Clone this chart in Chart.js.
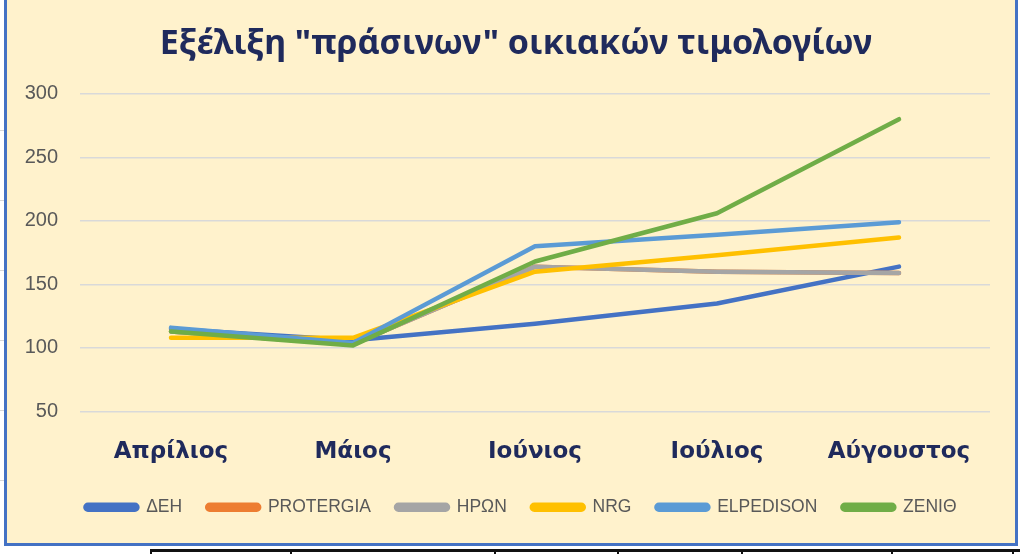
<!DOCTYPE html>
<html>
<head>
<meta charset="utf-8">
<script src="https://cdn.jsdelivr.net/npm/chart.js@4.4.0/dist/chart.umd.min.js"></script>
<style>
  html, body { margin: 0; padding: 0; background: #ffffff; width: 1020px; height: 554px; overflow: hidden; }
  #frame { position: absolute; left: 4px; top: -4px; width: 1008px; height: 544px; background: #FFF2CC; border: 3px solid #4472C4; box-sizing: content-box; }
  #wrap { position: absolute; left: 0; top: 0; width: 1020px; height: 554px; }
  .tl { position: absolute; background: #111; }
  .cell { position: absolute; background: #d8d8d8; }
</style>
</head>
<body>
<div class="cell" style="left:0;top:130px;width:4px;height:1px"></div>
<div class="cell" style="left:0;top:200px;width:4px;height:1px"></div>
<div class="cell" style="left:0;top:270px;width:4px;height:1px"></div>
<div class="cell" style="left:0;top:340px;width:4px;height:1px"></div>
<div class="cell" style="left:0;top:410px;width:4px;height:1px"></div>
<div class="cell" style="left:0;top:480px;width:4px;height:1px"></div>
<div id="frame"></div>
<div class="tl" style="left:150px;top:549px;width:870px;height:3px"></div>
<div class="tl" style="left:150px;top:549px;width:2px;height:5px"></div>
<div class="tl" style="left:290px;top:549px;width:2px;height:5px"></div>
<div class="tl" style="left:494px;top:549px;width:2px;height:5px"></div>
<div class="tl" style="left:617px;top:549px;width:2px;height:5px"></div>
<div class="tl" style="left:741px;top:549px;width:2px;height:5px"></div>
<div class="tl" style="left:891px;top:549px;width:2px;height:5px"></div>
<div class="tl" style="left:1012px;top:549px;width:2px;height:5px"></div>
<div id="wrap"><canvas id="c" width="1020" height="554"></canvas></div>
<script>
const months = ["Απρίλιος", "Μάιος", "Ιούνιος", "Ιούλιος", "Αύγουστος"];
const seriesNames = ["ΔΕΗ", "PROTERGIA", "ΗΡΩΝ", "NRG", "ELPEDISON", "ZENIΘ"];
const deh       = [115, 106, 119, 135, 164];
const protergia = [113, 103, 164, 160, 159];
const iron      = [113, 103, 164, 160, 159];
const nrg       = [108, 108, 160, 173, 187];
const elpedison = [116, 104, 180, 189, 199];
const zenith    = [113, 102, 168, 206, 280];
const yTicks = [50, 100, 150, 200, 250, 300];

const seriesValues = [deh, protergia, iron, nrg, elpedison, zenith];
const colors = ["#4472C4", "#ED7D31", "#A5A5A5", "#FFC000", "#5B9BD5", "#70AD47"];

const datasets = seriesNames.map((n, i) => ({
  label: n,
  data: seriesValues[i],
  borderColor: colors[i],
  backgroundColor: colors[i],
  borderWidth: 4.5,
  pointRadius: 0,
  tension: 0,
  fill: false,
  borderCapStyle: 'round',
  borderJoinStyle: 'round',
  order: seriesNames.length - i
}));

const boxShift = {
  id: 'boxShift',
  afterLayout(chart) {
    if (chart.legend) { chart.legend.left += 22; chart.legend.right += 22; }
    if (chart.titleBlock) { chart.titleBlock.left += 17; chart.titleBlock.right += 17; }
  }
};

new Chart(document.getElementById('c'), {
  type: 'line',
  data: { labels: months, datasets },
  plugins: [boxShift],
  options: {
    responsive: false,
    animation: false,
    devicePixelRatio: 1,
    layout: { padding: { left: 8, right: 30, top: 24, bottom: 28 } },
    plugins: {
      title: {
        display: true,
        text: 'Εξέλιξη "πράσινων" οικιακών τιμολογίων',
        color: '#1F2A5C',
        font: { family: 'Noto Sans', size: 34, weight: 'bold' },
        padding: { top: 0, bottom: 29 }
      },
      legend: {
        position: 'bottom',
        labels: {
          color: '#595959',
          font: { family: 'Liberation Sans', size: 17.5 },
          boxWidth: 52,
          boxHeight: 5,
          useBorderRadius: true,
          borderRadius: 2.5,
          padding: 25,
          sort: (a, b) => a.datasetIndex - b.datasetIndex
        }
      },
      tooltip: { enabled: false }
    },
    scales: {
      x: {
        offset: true,
        grid: { display: false },
        border: { display: false },
        afterFit: (s) => { s.height = 62; },
        ticks: {
          color: '#1F2A5C',
          font: { family: 'DejaVu Sans', size: 23, weight: 'bold' },
          padding: 19
        }
      },
      y: {
        min: 50,
        max: 300,
        afterBuildTicks: (s) => { s.ticks = yTicks.map(v => ({ value: v })); },
        afterFit: (s) => { s.width = 72; },
        grid: { color: '#D9D9D9', lineWidth: 1.5, drawTicks: false },
        border: { display: false },
        ticks: {
          color: '#595959',
          font: { family: 'Liberation Sans', size: 20 },
          padding: 22
        }
      }
    }
  }
});
</script>
</body>
</html>
